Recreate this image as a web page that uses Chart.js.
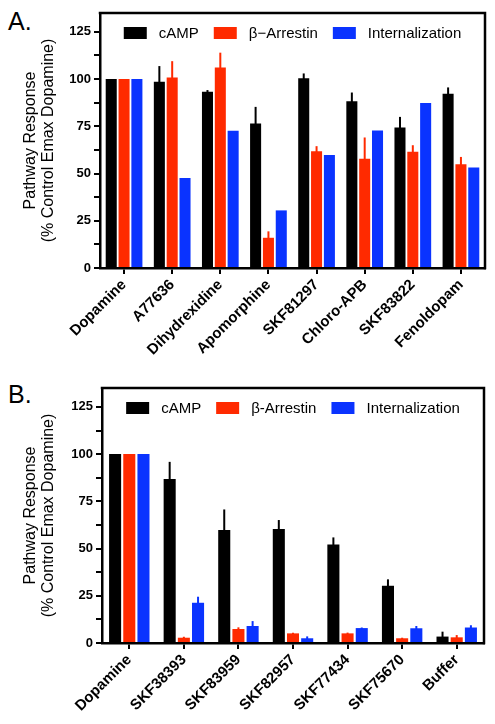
<!DOCTYPE html>
<html><head><meta charset="utf-8">
<script src="https://cdn.jsdelivr.net/npm/chart.js@4.4.1/dist/chart.umd.min.js"></script>
<style>
html,body{margin:0;padding:0;background:#fff;}
body{width:495px;height:724px;position:relative;overflow:hidden;font-family:"Liberation Sans",Arial,sans-serif;}
canvas{position:absolute;left:0;}
.lbl{position:absolute;left:8px;font-size:25px;line-height:25px;color:#000;}
</style></head><body>
<div class="lbl" style="top:9px">A.</div>
<canvas id="cA" width="495" height="362" style="top:0"></canvas>
<div class="lbl" style="top:382px">B.</div>
<canvas id="cB" width="495" height="362" style="top:362px"></canvas>
<script>
// ---- data ----
const seriesNamesA = ['cAMP', 'β\u2212Arrestin', 'Internalization'];
const seriesNamesB = ['cAMP', 'β-Arrestin', 'Internalization'];
const yTickValues = [0, 25, 50, 75, 100, 125];

const categoriesA = ['Dopamine','A77636','Dihydrexidine','Apomorphine','SKF81297','Chloro-APB','SKF83822','Fenoldopam'];
const campA      = [100, 98.6, 93.3, 76.5, 100.4, 88.3, 74.4, 92.2];
const campErrA   = [0, 8.3, 0.9, 8.8, 2.6, 4.6, 5.6, 3.4];
const arrestinA    = [100, 100.9, 106.2, 16.0, 61.8, 57.9, 61.6, 54.9];
const arrestinErrA = [0, 8.6, 7.8, 3.4, 2.7, 11.2, 3.4, 3.9];
const internA    = [100, 47.6, 72.6, 30.5, 59.8, 72.8, 87.4, 53.2];
const internErrA = [0, 0, 0, 0, 0, 0, 0, 0];

const categoriesB = ['Dopamine','SKF38393','SKF83959','SKF82957','SKF77434','SKF75670','Buffer'];
const campB      = [100, 86.8, 59.8, 60.3, 52.2, 30.3, 3.4];
const campErrB   = [0, 9.1, 10.9, 4.8, 3.7, 3.4, 2.6];
const arrestinB    = [100, 2.8, 7.4, 5.1, 5.1, 2.5, 3.0];
const arrestinErrB = [0, 0.5, 0.9, 0.3, 0.4, 0.3, 1.2];
const internB    = [100, 21.3, 9.0, 2.5, 7.9, 7.8, 8.2];
const internErrB = [0, 3.2, 2.6, 1.0, 0.3, 1.2, 1.2];

// ---- styles ----
const COLORS = ['#000000', '#ff2a00', '#0a33ff'];
const FAMILY = '"Liberation Sans", Arial, Helvetica, sans-serif';
Chart.defaults.font.family = FAMILY;
Chart.defaults.color = '#000';

const errorBars = {
  id: 'errorBars',
  afterDatasetsDraw(chart) {
    const ctx = chart.ctx, y = chart.scales.y;
    chart.data.datasets.forEach((ds, i) => {
      const meta = chart.getDatasetMeta(i);
      meta.data.forEach((bar, j) => {
        const e = ds.errors ? ds.errors[j] : 0;
        if (!e) return;
        const top = y.getPixelForValue(ds.data[j] + e);
        ctx.save();
        ctx.strokeStyle = ds.backgroundColor;
        ctx.lineWidth = 2;
        ctx.beginPath();
        ctx.moveTo(bar.x, bar.y + 1);
        ctx.lineTo(bar.x, top);
        ctx.stroke();
        ctx.restore();
      });
    });
  }
};

// frame on top/right + inside horizontal legend
const frameLegend = {
  id: 'frameLegend',
  afterDraw(chart) {
    const {ctx, chartArea: a} = chart;
    ctx.save();
    ctx.strokeStyle = '#000';
    ctx.lineWidth = 2.5;
    ctx.beginPath();
    ctx.moveTo(a.left - 1.25, a.top);
    ctx.lineTo(a.right, a.top);
    ctx.lineTo(a.right, a.bottom + 1.25);
    ctx.stroke();

    const boxW = 23, boxH = 12, gap = 12, spacing = 15;
    ctx.font = '15px ' + FAMILY;
    const items = chart.data.datasets.map(ds => ({
      text: ds.label, color: ds.backgroundColor, w: ctx.measureText(ds.label).width
    }));
    const total = items.reduce((s, it) => s + boxW + gap + it.w, 0) + spacing * (items.length - 1);
    let x = (a.left + a.right) / 2 - total / 2;
    const by = a.top + 14;
    ctx.textBaseline = 'middle';
    ctx.textAlign = 'left';
    items.forEach(it => {
      ctx.fillStyle = it.color;
      ctx.fillRect(x, by, boxW, boxH);
      x += boxW + gap;
      ctx.fillStyle = '#000';
      ctx.fillText(it.text, x, by + boxH / 2 + 0.5);
      x += it.w + spacing;
    });
    ctx.restore();
  }
};

function makeChart(id, cats, names, vals, errs, opt) {
  return new Chart(document.getElementById(id), {
    type: 'bar',
    data: {
      labels: cats,
      datasets: names.map((n, i) => ({
        label: n,
        data: vals[i],
        errors: errs[i],
        backgroundColor: COLORS[i],
        borderWidth: 0,
        categoryPercentage: opt.cat,
        barPercentage: opt.bar
      }))
    },
    options: {
      responsive: false,
      animation: false,
      layout: { padding: { top: opt.top, right: opt.right, left: 0, bottom: 0 } },
      plugins: {
        tooltip: { enabled: false },
        legend: { display: false }
      },
      scales: {
        x: {
          afterFit: s => { s.height = opt.xh; },
          grid: { display: true, offset: false, drawOnChartArea: false, drawTicks: true, tickLength: 6, color: '#000', lineWidth: 2 },
          border: { display: true, color: '#000', width: 2.5 },
          ticks: { autoSkip: false, minRotation: 45, maxRotation: 45, padding: 2, color: '#000',
                   font: { size: 15, weight: 'bold', family: FAMILY } }
        },
        y: {
          min: 0, max: 135,
          afterFit: s => { s.width = opt.yw; },
          grid: { display: true, drawOnChartArea: false, drawTicks: true, tickLength: 6, color: '#000', lineWidth: 2 },
          border: { display: true, color: '#000', width: 2.5 },
          ticks: {
            stepSize: 12.5, includeBounds: false, autoSkip: false, padding: 3, color: '#000',
            font: { size: 13, weight: 'bold', family: FAMILY },
            callback: v => yTickValues.includes(v) ? String(v) : ''
          },
          title: {
            display: true,
            text: ['Pathway Response', '(% Control Emax Dopamine)'],
            font: { size: 16, family: FAMILY, lineHeight: 1.15 },
            color: '#000',
            padding: { top: 21, bottom: 0 }
          }
        }
      }
    },
    plugins: [errorBars, frameLegend]
  });
}

makeChart('cA', categoriesA, seriesNamesA,
  [campA, arrestinA, internA], [campErrA, arrestinErrA, internErrA],
  { top: 13, right: 10, xh: 94, yw: 100, cat: 0.8, bar: 0.86 });
makeChart('cB', categoriesB, seriesNamesB,
  [campB, arrestinB, internB], [campErrB, arrestinErrB, internErrB],
  { top: 26, right: 11, xh: 81, yw: 102, cat: 0.78, bar: 0.85 });
</script>
</body></html>
